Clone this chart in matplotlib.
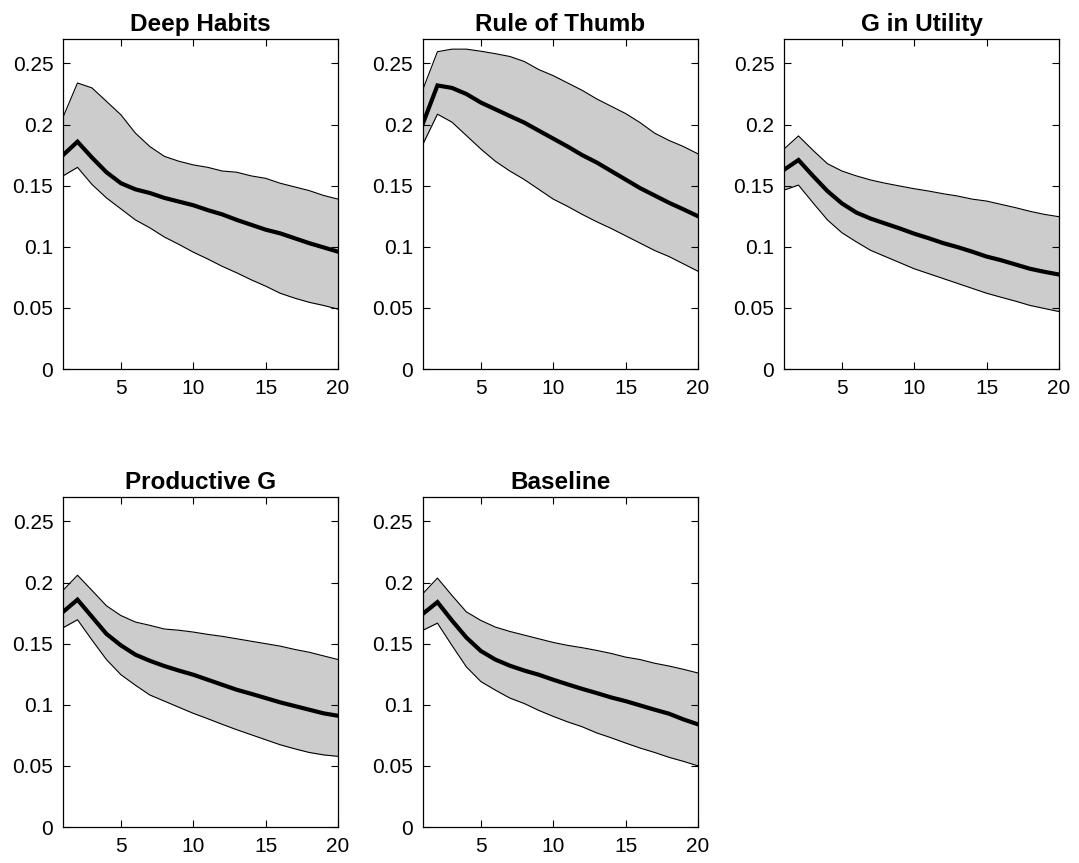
import numpy as np
import matplotlib
matplotlib.use("Agg")
import matplotlib.pyplot as plt

plt.rcParams['font.family'] = ['Liberation Sans', 'DejaVu Sans']

horizon = np.arange(1, 21)

titles = ["Deep Habits", "Rule of Thumb", "G in Utility", "Productive G", "Baseline"]

# median responses and bands
deep_mid = [0.175, 0.186, 0.173, 0.161, 0.152, 0.147, 0.144, 0.140, 0.137, 0.134,
            0.130, 0.1265, 0.122, 0.118, 0.114, 0.111, 0.107, 0.103, 0.0995, 0.096]
deep_hi = [0.206, 0.234, 0.230, 0.219, 0.208, 0.193, 0.182, 0.174, 0.170, 0.167,
           0.165, 0.162, 0.161, 0.158, 0.156, 0.152, 0.149, 0.146, 0.142, 0.139]
deep_lo = [0.158, 0.165, 0.151, 0.140, 0.131, 0.122, 0.1155, 0.108, 0.102, 0.0956,
           0.090, 0.084, 0.0787, 0.073, 0.0678, 0.062, 0.058, 0.0546, 0.052, 0.049]

rot_mid = [0.201, 0.232, 0.230, 0.225, 0.218, 0.2125, 0.207, 0.2016, 0.195, 0.1885,
           0.182, 0.175, 0.169, 0.162, 0.155, 0.148, 0.142, 0.136, 0.1306, 0.125]
rot_hi = [0.229, 0.2596, 0.2617, 0.2617, 0.260, 0.258, 0.2557, 0.2516, 0.245, 0.240,
          0.234, 0.228, 0.221, 0.215, 0.209, 0.2016, 0.193, 0.187, 0.182, 0.176]
rot_lo = [0.184, 0.2085, 0.202, 0.191, 0.180, 0.170, 0.162, 0.155, 0.147, 0.139,
          0.133, 0.1265, 0.1205, 0.115, 0.109, 0.103, 0.097, 0.092, 0.086, 0.080]

giu_mid = [0.163, 0.171, 0.158, 0.1456, 0.1355, 0.128, 0.123, 0.119, 0.115, 0.1107,
           0.107, 0.103, 0.0997, 0.096, 0.092, 0.089, 0.0855, 0.082, 0.0795, 0.0773]
giu_hi = [0.180, 0.1907, 0.179, 0.168, 0.162, 0.158, 0.1546, 0.152, 0.1497, 0.1475,
          0.1456, 0.1434, 0.1415, 0.139, 0.1374, 0.1347, 0.132, 0.129, 0.1265, 0.1246]
giu_lo = [0.1464, 0.1505, 0.136, 0.122, 0.1115, 0.104, 0.097, 0.092, 0.087, 0.082,
          0.078, 0.074, 0.070, 0.066, 0.062, 0.0587, 0.0555, 0.052, 0.0495, 0.047]

prod_mid = [0.176, 0.186, 0.172, 0.158, 0.1486, 0.141, 0.136, 0.1317, 0.128, 0.1246,
            0.1205, 0.1164, 0.1123, 0.109, 0.1055, 0.102, 0.099, 0.096, 0.093, 0.091]
prod_hi = [0.1936, 0.206, 0.1936, 0.181, 0.173, 0.1677, 0.165, 0.162, 0.161, 0.1595,
           0.1576, 0.156, 0.154, 0.152, 0.150, 0.148, 0.1453, 0.143, 0.140, 0.137]
prod_lo = [0.163, 0.1696, 0.153, 0.137, 0.1246, 0.116, 0.108, 0.103, 0.098, 0.093,
           0.0886, 0.084, 0.0796, 0.0755, 0.0714, 0.0673, 0.064, 0.061, 0.059, 0.0578]

base_mid = [0.1745, 0.184, 0.169, 0.155, 0.144, 0.137, 0.132, 0.128, 0.1246, 0.1205,
            0.1167, 0.113, 0.1096, 0.106, 0.103, 0.0995, 0.096, 0.0927, 0.088, 0.084]
base_hi = [0.191, 0.2037, 0.1895, 0.176, 0.169, 0.1636, 0.160, 0.157, 0.154, 0.151,
           0.1486, 0.1467, 0.1445, 0.142, 0.139, 0.137, 0.134, 0.1317, 0.129, 0.126]
base_lo = [0.161, 0.1668, 0.1486, 0.131, 0.119, 0.112, 0.1055, 0.101, 0.0954, 0.0905,
           0.086, 0.082, 0.077, 0.073, 0.0687, 0.0646, 0.061, 0.057, 0.0537, 0.050]

mids = [deep_mid, rot_mid, giu_mid, prod_mid, base_mid]
highs = [deep_hi, rot_hi, giu_hi, prod_hi, base_hi]
lows = [deep_lo, rot_lo, giu_lo, prod_lo, base_lo]

fig = plt.figure(figsize=(10.79, 8.63), dpi=100)

lefts = [0.0584, 0.392, 0.7266]
bottoms = [0.5724, 0.0417]
w, h = 0.2549, 0.3824

for i in range(5):
    r, c = divmod(i, 3)
    ax = fig.add_axes([lefts[c], bottoms[r], w, h])
    ax.fill_between(horizon, lows[i], highs[i], color=(0.8, 0.8, 0.8), linewidth=0)
    ax.plot(horizon, highs[i], color="k", linewidth=0.8)
    ax.plot(horizon, lows[i], color="k", linewidth=0.8)
    ax.plot(horizon, mids[i], color="k", linewidth=3, solid_joinstyle="miter")
    ax.set_xlim(1, 20)
    ax.set_ylim(0, 0.27)
    ax.set_xticks([5, 10, 15, 20])
    ax.set_yticks([0, 0.05, 0.1, 0.15, 0.2, 0.25])
    ax.set_yticklabels(["0", "0.05", "0.1", "0.15", "0.2", "0.25"])
    ax.tick_params(direction="in", top=True, right=True, length=5, width=0.8,
                   labelsize=15, pad=7)
    for s in ax.spines.values():
        s.set_linewidth(0.9)
    ax.set_title(titles[i], fontsize=17.5, fontweight="bold", pad=6)

fig.savefig("out.png", dpi=100)
